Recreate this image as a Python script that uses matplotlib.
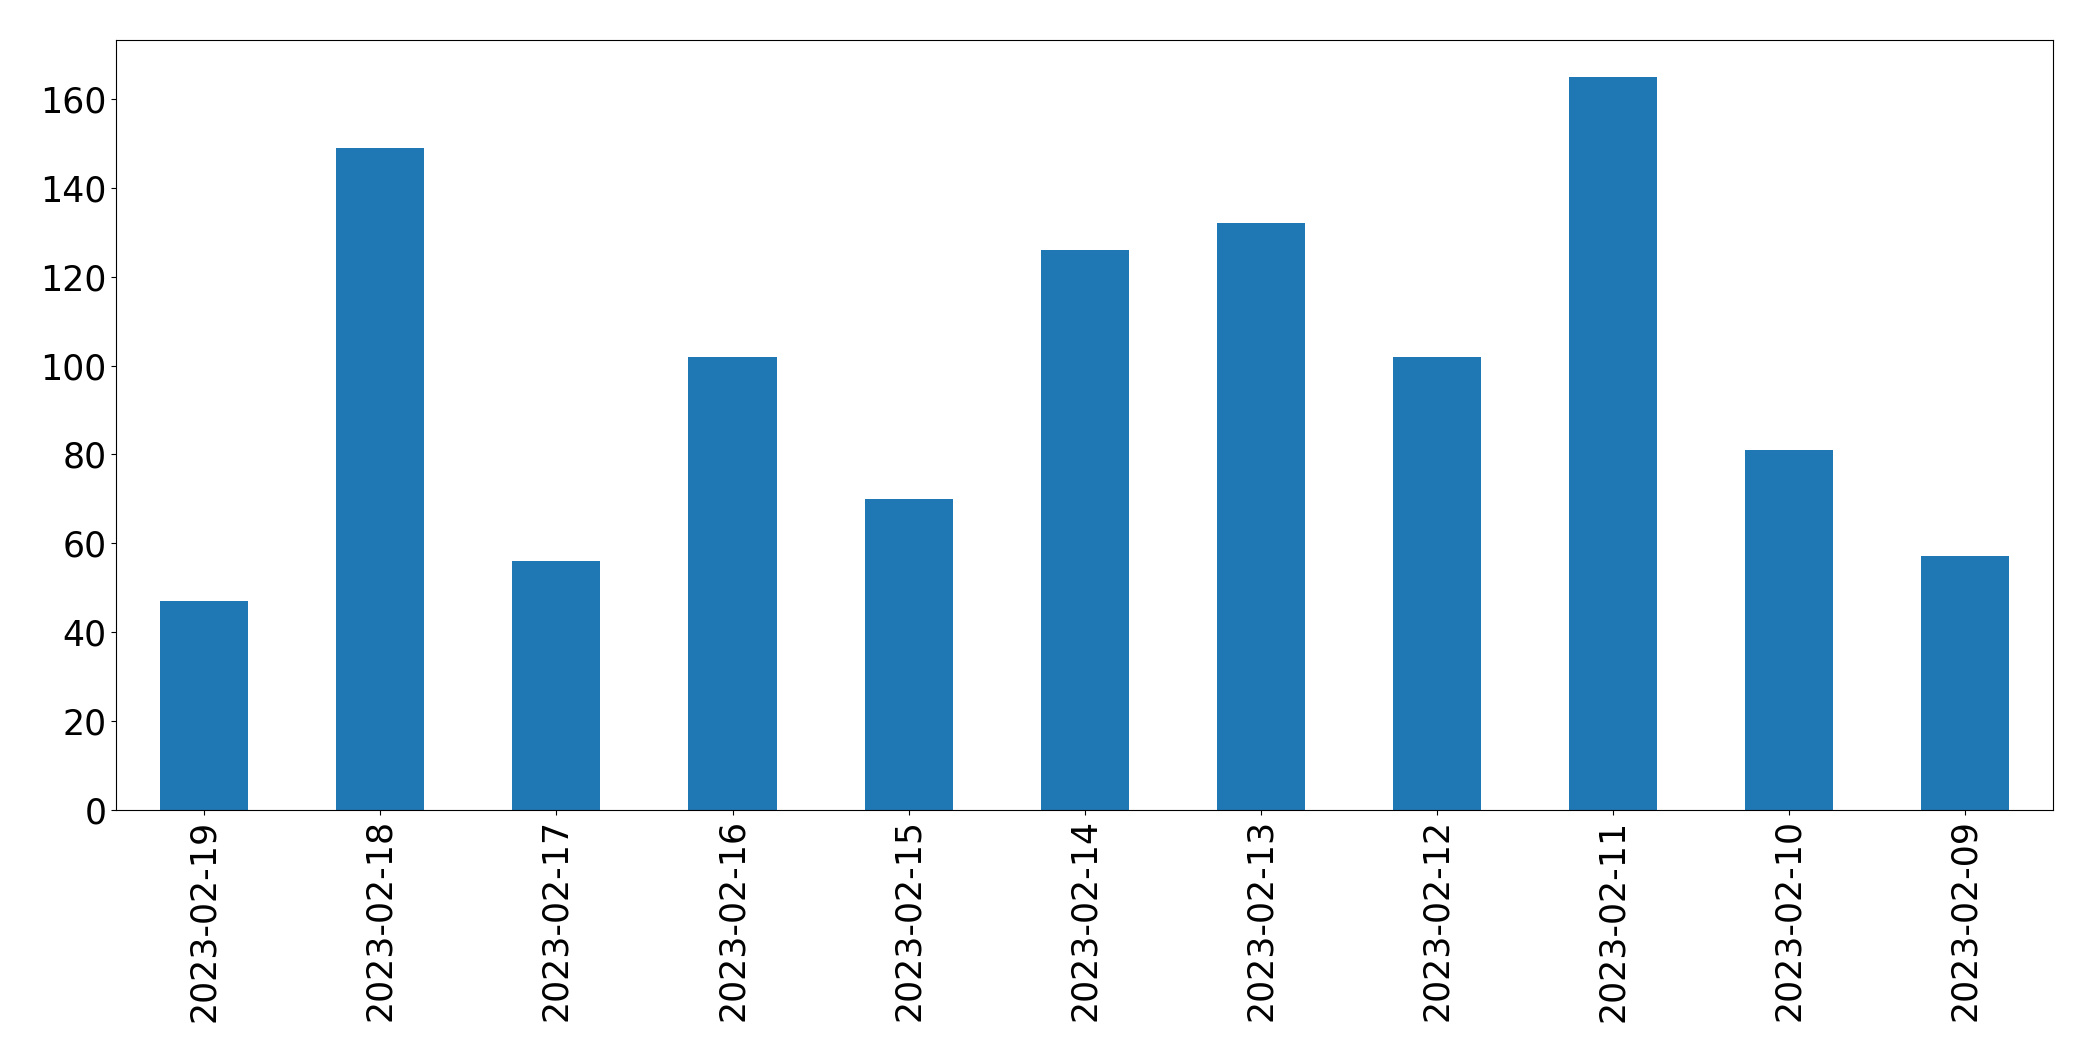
import matplotlib
matplotlib.use("Agg")
import matplotlib.pyplot as plt
import pandas as pd

dates = ["2023-02-19", "2023-02-18", "2023-02-17", "2023-02-16", "2023-02-15",
         "2023-02-14", "2023-02-13", "2023-02-12", "2023-02-11", "2023-02-10",
         "2023-02-09"]
counts = [47, 149, 56, 102, 70, 126, 132, 102, 165, 81, 57]

s = pd.Series(counts, index=dates)

fig, ax = plt.subplots(figsize=(20.93, 10.61), dpi=100)
s.plot(kind="bar", ax=ax, color="#1f77b4", fontsize=25)

fig.subplots_adjust(left=0.0555, right=0.981, top=0.962, bottom=0.237)
plt.savefig("out.png", dpi=100)
